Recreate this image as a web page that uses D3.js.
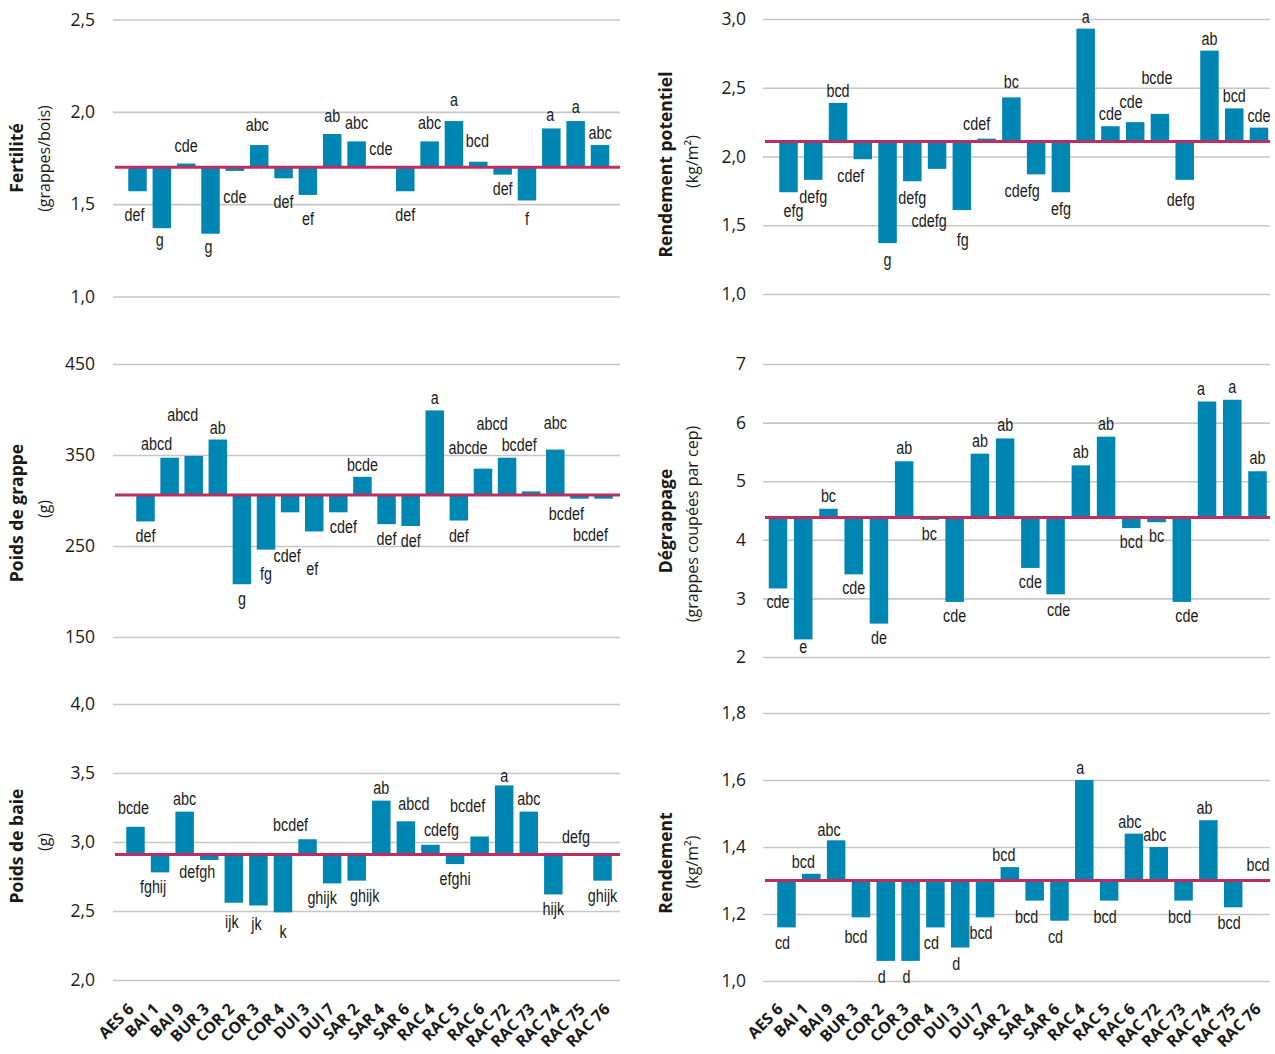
<!DOCTYPE html>
<html>
<head>
<meta charset="utf-8">
<script src="https://cdn.jsdelivr.net/npm/d3@7"></script>
<style>
  body { margin: 0; background: #fff; }
  svg { display: block; }
</style>
</head>
<body>
<svg id="chart" width="1275" height="1054"></svg>
<script>
// Cépages (accessions) in the order shown on the x axis
const categories = ["AES 6", "BAI 1", "BAI 9", "BUR 3", "COR 2", "COR 3", "COR 4", "DUI 3", "DUI 7",
  "SAR 2", "SAR 4", "SAR 6", "RAC 4", "RAC 5", "RAC 6", "RAC 72", "RAC 73", "RAC 74", "RAC 75", "RAC 76"];

// Fertilité (grappes/bois)
const fertiliteValues = [1.57, 1.37, 1.72, 1.34, 1.68, 1.82, 1.64, 1.55, 1.88, 1.84, 1.70, 1.57, 1.84, 1.95, 1.73, 1.66, 1.52, 1.91, 1.95, 1.82];
const fertiliteLetters = ["def", "g", "cde", "g", "cde", "abc", "def", "ef", "ab", "abc", "cde", "def", "abc", "a", "bcd", "def", "f", "a", "a", "abc"];
const fertiliteMean = 1.70;
const fertiliteTicks = [1.0, 1.5, 2.0, 2.5];

// Rendement potentiel (kg/m²)
const rendPotValues = [1.74, 1.83, 2.39, 1.98, 1.37, 1.82, 1.91, 1.61, 2.13, 2.43, 1.87, 1.74, 2.93, 2.22, 2.25, 2.31, 1.83, 2.77, 2.35, 2.21];
const rendPotLetters = ["efg", "defg", "bcd", "cdef", "g", "defg", "cdefg", "fg", "cdef", "bc", "cdefg", "efg", "a", "cde", "cde", "bcde", "defg", "ab", "bcd", "cde"];
const rendPotMean = 2.11;
const rendPotTicks = [1.0, 1.5, 2.0, 2.5, 3.0];

// Poids de grappe (g)
const grappeValues = [277, 347, 349, 367, 208, 246, 287, 266, 287, 326, 274, 272, 399, 278, 335, 347, 310, 356, 302, 302];
const grappeLetters = ["def", "abcd", "abcd", "ab", "g", "fg", "cdef", "ef", "cdef", "bcde", "def", "def", "a", "def", "abcde", "abcd", "bcdef", "abc", "bcdef", "bcdef"];
const grappeMean = 306;
const grappeTicks = [150, 250, 350, 450];

// Dégrappage (grappes coupées par cep)
const degrappageValues = [3.17, 2.30, 4.53, 3.41, 2.57, 5.34, 4.34, 2.94, 5.47, 5.73, 3.52, 3.07, 5.27, 5.76, 4.20, 4.30, 2.94, 6.36, 6.39, 5.17];
const degrappageLetters = ["cde", "e", "bc", "cde", "de", "ab", "bc", "cde", "ab", "ab", "cde", "cde", "ab", "ab", "bcd", "bc", "cde", "a", "a", "ab"];
const degrappageMean = 4.38;
const degrappageTicks = [2, 3, 4, 5, 6, 7];

// Poids de baie (g)
const baieValues = [3.11, 2.78, 3.22, 2.87, 2.56, 2.54, 2.49, 3.02, 2.70, 2.72, 3.30, 3.15, 2.98, 2.84, 3.04, 3.41, 3.22, 2.62, 2.91, 2.72];
const baieLetters = ["bcde", "fghij", "abc", "defgh", "ijk", "jk", "k", "bcdef", "ghijk", "ghijk", "ab", "abcd", "cdefg", "efghi", "bcdef", "a", "abc", "hijk", "defg", "ghijk"];
const baieMean = 2.91;
const baieTicks = [2.0, 2.5, 3.0, 3.5, 4.0];

// Rendement (kg/m²)
const rendementValues = [1.16, 1.32, 1.42, 1.19, 1.06, 1.06, 1.16, 1.10, 1.19, 1.34, 1.24, 1.18, 1.60, 1.24, 1.44, 1.40, 1.24, 1.48, 1.22, 1.30];
const rendementLetters = ["cd", "bcd", "abc", "bcd", "d", "d", "cd", "d", "bcd", "bcd", "bcd", "cd", "a", "bcd", "abc", "abc", "bcd", "ab", "bcd", "bcd"];
const rendementMean = 1.30;
const rendementTicks = [1.0, 1.2, 1.4, 1.6, 1.8];

// ---------- styling ----------
const BAR = "#0086b3";
const MEAN = "#be2c62";
const GRID = "#c6c6c6";
const INK = "#1a1a1a";
const LETTER_FONT = "'Liberation Sans', Arial, sans-serif";   // squeezed horizontally below
const SANS = "'Open Sans', 'Noto Sans', sans-serif";

const fr = d3.formatLocale({ decimal: ",", thousands: " ", grouping: [3], currency: ["", ""] });
const fmt1 = fr.format(".1f");
const fmt0 = fr.format("d");

const side = {
  left:  { grid: [113, 620], pad: 18, titleX: 23, subX: 49.5, labels: [135, 611] },
  right: { grid: [763, 1270], pad: 17, titleX: 672, subX: 698, labels: [784, 1262] }
};

// Letter placement: baseline gap above / below the bar end, plus a few hand nudges [dx, dy]
const panels = [
  { side: "left", title: "Fertilité", sub: "(grappes/bois)", values: fertiliteValues, letters: fertiliteLetters,
    mean: fertiliteMean, ticks: fertiliteTicks, fmt: fmt1, domain: [1.0, 2.5], yRange: [296.5, 19.5],
    centers: [137.5, 600], titleY: 158, subY: 158.5, gapA: 12, gapB: 30, dx: 0,
    nudge: { "AES 6": [-3, 0], "BAI 1": [-2, -12], "BUR 3": [-2, -11], "COR 2": [0, 2], "COR 3": [-2, -2],
             "RAC 5": [0, -3], "RAC 6": [-1, -3], "RAC 72": [0, -10], "RAC 73": [0, -5],
             "RAC 74": [-1, 5], "RAC 75": [0, 4], "RAC 76": [0, 6] } },
  { side: "right", title: "Rendement potentiel", sub: "(kg/m²)", values: rendPotValues, letters: rendPotLetters,
    mean: rendPotMean, ticks: rendPotTicks, fmt: fmt1, domain: [1.0, 3.0], yRange: [294, 19],
    centers: [788.5, 1259], titleY: 164.5, subY: 161.5, gapA: 6, gapB: 23, dx: 0,
    nudge: { "AES 6": [5, 2], "BUR 3": [-12, 0], "COR 4": [-8, 35], "DUI 3": [1, 13], "DUI 7": [-10, -3],
             "SAR 2": [0, -3], "SAR 4": [-14, 0], "RAC 6": [-4, -8], "RAC 72": [-3, -24], "RAC 73": [-4, 3] } },
  { side: "left", title: "Poids de grappe", sub: "(g)", values: grappeValues, letters: grappeLetters,
    mean: grappeMean, ticks: grappeTicks, fmt: fmt0, domain: [150, 450], yRange: [637, 364],
    centers: [145.5, 603.5], titleY: 513, subY: 509, gapA: 6, gapB: 21, dx: 0,
    nudge: { "BAI 1": [-13, -2], "BAI 9": [-11, -29], "COR 3": [0, 9], "COR 4": [-3, 29], "DUI 3": [-2, 23],
             "DUI 7": [5, 0], "RAC 6": [-15, -9], "RAC 72": [-15, -22], "RAC 73": [-12, -34],
             "RAC 74": [0, -15], "RAC 75": [-13, 0], "RAC 76": [-13, 21] } },
  { side: "right", title: "Dégrappage", sub: "(grappes coupées par cep)", values: degrappageValues, letters: degrappageLetters,
    mean: degrappageMean, ticks: degrappageTicks, fmt: fmt0, domain: [2, 7], yRange: [657, 364],
    centers: [778, 1257.5], titleY: 521, subY: 524, gapA: 7, gapB: 20, dx: 0,
    nudge: { "BAI 1": [0, -6], "SAR 6": [3, 2], "RAC 73": [5, 0], "RAC 74": [-6, 0] } },
  { side: "left", title: "Poids de baie", sub: "(g)", values: baieValues, letters: baieLetters,
    mean: baieMean, ticks: baieTicks, fmt: fmt1, domain: [2.0, 4.0], yRange: [980, 704],
    centers: [135.5, 602.5], titleY: 846, subY: 842, gapA: 7, gapB: 21, dx: 0,
    nudge: { "AES 6": [-2, -6], "BAI 1": [-7, 0], "BUR 3": [-12, -3], "COR 2": [-2, 4], "COR 3": [-2, 4],
             "COR 4": [0, 5], "DUI 3": [-17, -1], "DUI 7": [-10, 0], "SAR 2": [8, 0], "SAR 6": [8, -4],
             "RAC 4": [11, -2], "RAC 6": [-12, -17], "RAC 72": [0, 4], "RAC 75": [-2, -4] } },
  { side: "right", title: "Rendement", sub: "(kg/m²)", values: rendementValues, letters: rendementLetters,
    mean: rendementMean, ticks: rendementTicks, fmt: fmt1, domain: [1.0, 1.8], yRange: [981, 713],
    centers: [786.5, 1258], titleY: 863, subY: 862, gapA: 6, gapB: 22, dx: -4,
    nudge: { "BAI 1": [-4, 0], "BAI 9": [-3, 2], "BUR 3": [-1, 4], "SAR 2": [-2, 0], "SAR 4": [-4, 0],
             "RAC 76": [4, -4] } }
];

const svg = d3.select("#chart");
svg.append("rect").attr("width", 1275).attr("height", 1054).attr("fill", "#fff");

const barW = 18.5;

panels.forEach(p => {
  const s = side[p.side];
  const g = svg.append("g");
  const y = d3.scaleLinear().domain(p.domain).range(p.yRange);
  const x = d3.scalePoint().domain(categories).range(p.centers);
  const width = s.grid[1] - s.grid[0];

  // value axis with full-width gridlines
  const axis = g.append("g")
    .attr("transform", `translate(${s.grid[0]},0)`)
    .call(d3.axisLeft(y).tickValues(p.ticks).tickFormat(p.fmt).tickSize(-width).tickPadding(s.pad));
  axis.select(".domain").remove();
  axis.selectAll(".tick line").attr("stroke", GRID).attr("stroke-width", 1.6);
  axis.selectAll(".tick text")
    .attr("fill", INK).style("font-family", SANS).style("font-size", "17.5px");

  const data = categories.map((c, i) => ({ c, v: p.values[i], l: p.letters[i] }));

  // bars drawn from the mean line to each value
  g.selectAll("rect.bar").data(data).join("rect")
    .attr("class", "bar")
    .attr("x", d => x(d.c) - barW / 2)
    .attr("width", barW)
    .attr("y", d => Math.min(y(d.v), y(p.mean)))
    .attr("height", d => Math.abs(y(d.v) - y(p.mean)))
    .attr("fill", BAR);

  // mean line
  g.append("line")
    .attr("x1", s.grid[0] + 2).attr("x2", s.grid[1])
    .attr("y1", y(p.mean)).attr("y2", y(p.mean))
    .attr("stroke", MEAN).attr("stroke-width", 3);

  // significance letters (condensed)
  g.selectAll("text.letter").data(data).join("text")
    .attr("class", "letter")
    .attr("text-anchor", "middle")
    .attr("transform", d => {
      const n = p.nudge[d.c] || [0, 0];
      const tx = x(d.c) + p.dx + n[0];
      const ty = (d.v >= p.mean ? y(d.v) - p.gapA : y(d.v) + p.gapB) + n[1];
      return `translate(${tx},${ty}) scale(0.82,1)`;
    })
    .attr("fill", INK)
    .style("font-family", LETTER_FONT)
    .style("font-size", "17.5px")
    .text(d => d.l);

  // axis titles
  g.append("text")
    .attr("transform", `translate(${s.titleX},${p.titleY}) rotate(-90)`)
    .attr("text-anchor", "middle")
    .attr("fill", INK)
    .style("font-family", SANS).style("font-weight", 700).style("font-size", "17.5px")
    .text(p.title);
  g.append("text")
    .attr("transform", `translate(${s.subX},${p.subY}) rotate(-90)`)
    .attr("text-anchor", "middle")
    .attr("fill", INK)
    .style("font-family", SANS).style("font-size", "16px")
    .text(p.sub);
});

// category labels under the bottom row
["left", "right"].forEach(k => {
  const xl = d3.scalePoint().domain(categories).range(side[k].labels);
  svg.append("g").selectAll("text").data(categories).join("text")
    .attr("transform", d => `translate(${xl(d)},1010) rotate(-45)`)
    .attr("text-anchor", "end")
    .attr("fill", INK)
    .style("font-family", SANS).style("font-weight", 700).style("font-size", "16px")
    .text(d => d);
});
</script>
</body>
</html>
